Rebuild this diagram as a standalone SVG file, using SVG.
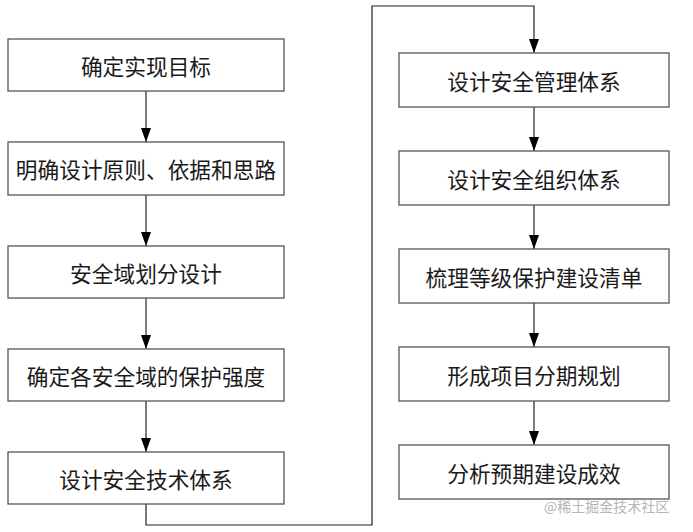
<svg xmlns="http://www.w3.org/2000/svg" width="693" height="532" viewBox="0 0 693 532">
<style>
.box{fill:#fff;stroke:#555;stroke-width:1.3}
.t{font-family:"Noto Sans CJK SC",sans-serif;font-size:21.7px;fill:#1a1a1a;text-anchor:middle;dominant-baseline:central}
.c{fill:none;stroke:#222;stroke-width:1.2}
.wm{font-family:"Noto Sans CJK SC",sans-serif;font-size:14px;fill:#b5b5b5}
</style>
<defs>
<marker id="a" markerWidth="14" markerHeight="10" refX="14" refY="5" orient="auto" markerUnits="userSpaceOnUse" viewBox="0 0 14 10">
<path d="M0,0 L14,5 L0,10 Z" fill="#000"/>
</marker>
</defs>
<rect width="693" height="532" fill="#fff"/>
<g id="connectors">
<path class="c" d="M146,91 V142" marker-end="url(#a)"/>
<path class="c" d="M146,195 V246" marker-end="url(#a)"/>
<path class="c" d="M146,298 V349" marker-end="url(#a)"/>
<path class="c" d="M146,401 V452" marker-end="url(#a)"/>
<path class="c" d="M146,504 V525 H372 V6 H534 V53" marker-end="url(#a)"/>
<path class="c" d="M534,107 V151" marker-end="url(#a)"/>
<path class="c" d="M534,205 V249" marker-end="url(#a)"/>
<path class="c" d="M534,303 V347" marker-end="url(#a)"/>
<path class="c" d="M534,401 V445" marker-end="url(#a)"/>
</g>
<g id="n1"><rect class="box" x="8" y="39" width="276" height="52"/><text class="t" x="146" y="65">确定实现目标</text></g>
<g id="n2"><rect class="box" x="8" y="142" width="276" height="53"/><text class="t" x="146" y="168.5">明确设计原则、依据和思路</text></g>
<g id="n3"><rect class="box" x="8" y="246" width="276" height="52"/><text class="t" x="146" y="272">安全域划分设计</text></g>
<g id="n4"><rect class="box" x="8" y="349" width="276" height="52"/><text class="t" x="146" y="375">确定各安全域的保护强度</text></g>
<g id="n5"><rect class="box" x="8" y="452" width="276" height="52"/><text class="t" x="146" y="478">设计安全技术体系</text></g>
<g id="n6"><rect class="box" x="399" y="53" width="270" height="54"/><text class="t" x="534" y="80">设计安全管理体系</text></g>
<g id="n7"><rect class="box" x="399" y="151" width="270" height="54"/><text class="t" x="534" y="178">设计安全组织体系</text></g>
<g id="n8"><rect class="box" x="399" y="249" width="270" height="54"/><text class="t" x="534" y="276">梳理等级保护建设清单</text></g>
<g id="n9"><rect class="box" x="399" y="347" width="270" height="54"/><text class="t" x="534" y="374">形成项目分期规划</text></g>
<g id="n10"><rect class="box" x="399" y="445" width="270" height="54"/><text class="t" x="534" y="472">分析预期建设成效</text></g>
<text class="wm" x="544" y="512">@稀土掘金技术社区</text>
</svg>
